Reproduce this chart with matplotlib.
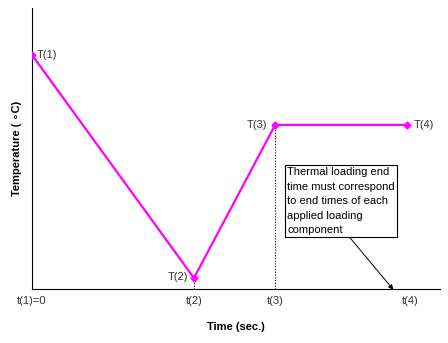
import matplotlib
matplotlib.use("Agg")
import matplotlib.pyplot as plt

plt.rcParams["font.family"] = ["Liberation Sans", "DejaVu Sans"]

times = [0, 3.97, 5.96, 9.2]
temps = [8.33, 0.39, 5.84, 5.84]
t_labels = ["t(1)=0", "t(2)", "t(3)", "t(4)"]
T_labels = ["T(1)", "T(2)", "T(3)", "T(4)"]
note = "Thermal loading end\ntime must correspond\nto end times of each\napplied loading\ncomponent"

fig = plt.figure(figsize=(4.48, 3.43), dpi=100)
ax = fig.add_axes([32 / 448, 54 / 343, 408 / 448, 281 / 343])
ax.set_xlim(0, 10)
ax.set_ylim(0, 10)
for s in ["top", "right"]:
    ax.spines[s].set_visible(False)
ax.set_xticks([])
ax.set_yticks([])

ax.plot(times, temps, color="#ff00ff", lw=1.6, marker="D", ms=3.5, zorder=3)

# dotted guides at t(2), t(3)
for i in (1, 2):
    ax.plot([times[i], times[i]], [0, temps[i]], ls=(0, (1, 1.5)), color="black", lw=0.8)

# point labels
lab_kw = dict(fontsize=8, va="center", color="#333333")
ax.text(times[0] + 0.12, temps[0], T_labels[0], ha="left", **lab_kw)
ax.text(times[1] - 0.15, temps[1] + 0.05, T_labels[1], ha="right", **lab_kw)
ax.text(times[2] - 0.2, temps[2], T_labels[2], ha="right", **lab_kw)
ax.text(times[3] + 0.15, temps[3], T_labels[3], ha="left", **lab_kw)

# time labels below the axis
for i, lab in enumerate(t_labels):
    x = times[i] + (0.08 if i == 3 else 0)
    ax.text(x, -0.25, lab, fontsize=8, va="top", ha="center", color="#333333", clip_on=False)

ax.annotate("", xy=(8.9, -0.1), xytext=(7.75, 1.9),
            arrowprops=dict(arrowstyle="-|>", color="black", lw=0.7, mutation_scale=7),
            annotation_clip=False)
ax.text(6.25, 1.92, note, fontsize=8, va="bottom", ha="left", linespacing=1.55,
        bbox=dict(boxstyle="square,pad=0.2", fc="white", ec="black", lw=0.8))

ax.set_xlabel("Time (sec.)", fontsize=8, fontweight="bold", labelpad=24)
ax.set_ylabel("Temperature ( \u2218C)", fontsize=8, fontweight="bold", labelpad=7)

fig.savefig("out.png")
